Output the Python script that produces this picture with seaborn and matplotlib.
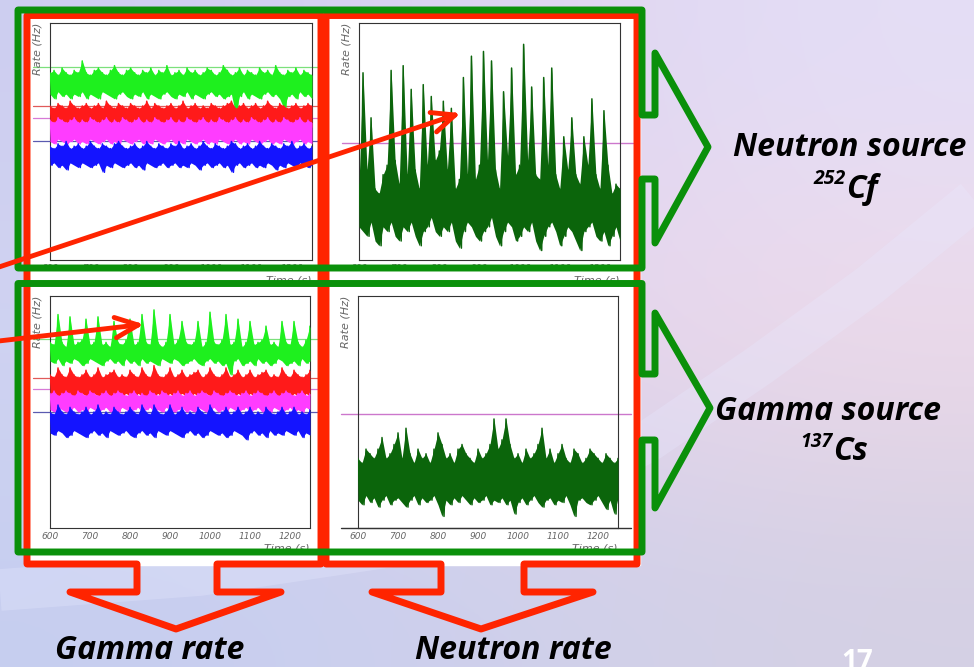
import pandas as pd
import numpy as np
import matplotlib.pyplot as plt
import seaborn as sns
from matplotlib.patches import Polygon, Rectangle

W, H = 974, 667

# time bins (s), one high/low pair of the noisy rate per bin
time_s = list(range(600, 1260, 10))

# ---- Neutron source 252Cf, gamma rate (top left) ----
cf_gamma_green_hi = [79, 80, 78, 81, 79, 78, 80, 79, 84, 79,
                     78, 80, 81, 79, 78, 80, 82, 79, 78, 80,
                     81, 79, 78, 80, 79, 81, 78, 80, 79, 82,
                     78, 79, 80, 78, 81, 79, 80, 78, 79, 81,
                     80, 78, 79, 82, 80, 78, 79, 81, 78, 80,
                     79, 78, 81, 79, 80, 78, 82, 79, 78, 80,
                     79, 81, 78, 80, 79, 78]
cf_gamma_green_lo = [70, 68, 71, 69, 70, 68, 70, 69, 71, 68,
                     70, 69, 68, 71, 70, 69, 68, 70, 71, 69,
                     68, 70, 69, 71, 68, 70, 69, 68, 70, 71,
                     69, 68, 70, 69, 71, 68, 70, 69, 68, 70,
                     71, 69, 70, 68, 69, 70, 62, 69, 71, 68,
                     70, 69, 68, 70, 71, 69, 70, 68, 64, 69,
                     70, 68, 71, 69, 70, 68]
cf_gamma_red_hi = [65, 64, 66, 65, 64, 67, 65, 64, 65, 66,
                   64, 65, 66, 64, 67, 65, 64, 66, 65, 64,
                   66, 65, 64, 65, 67, 64, 66, 65, 64, 65,
                   66, 64, 65, 67, 64, 65, 66, 64, 65, 64,
                   66, 65, 64, 65, 66, 67, 64, 65, 66, 64,
                   65, 66, 64, 65, 67, 65, 64, 66, 65, 64,
                   65, 66, 64, 65, 66, 65]
cf_gamma_red_lo = [57, 56, 58, 57, 56, 57, 58, 56, 57, 56,
                   58, 57, 56, 57, 58, 56, 57, 56, 58, 57,
                   56, 57, 58, 56, 57, 56, 58, 57, 56, 57,
                   58, 56, 57, 56, 58, 57, 56, 57, 58, 56,
                   57, 56, 58, 57, 56, 57, 58, 56, 57, 56,
                   58, 57, 56, 57, 58, 56, 57, 56, 58, 57,
                   56, 57, 58, 56, 57, 56]
cf_gamma_mag_hi = [59, 58, 60, 59, 58, 59, 60, 58, 59, 58,
                   60, 59, 58, 59, 60, 58, 59, 58, 60, 59,
                   58, 59, 60, 58, 59, 58, 60, 59, 58, 59,
                   60, 58, 59, 58, 60, 59, 58, 59, 60, 58,
                   59, 58, 60, 59, 58, 59, 60, 58, 59, 58,
                   60, 59, 58, 59, 60, 58, 59, 58, 60, 59,
                   58, 59, 60, 58, 59, 58]
cf_gamma_mag_lo = [50, 49, 51, 50, 49, 50, 51, 49, 50, 49,
                   51, 50, 49, 50, 51, 49, 50, 49, 51, 50,
                   49, 50, 51, 49, 50, 49, 51, 50, 49, 50,
                   51, 49, 50, 49, 51, 50, 49, 50, 51, 49,
                   50, 49, 51, 50, 49, 50, 51, 49, 50, 49,
                   51, 50, 49, 50, 51, 49, 50, 49, 51, 50,
                   49, 50, 51, 49, 50, 49]
cf_gamma_blue_hi = [48, 47, 49, 48, 50, 47, 48, 49, 47, 48,
                    50, 48, 47, 49, 48, 47, 49, 50, 48, 47,
                    48, 49, 47, 48, 50, 48, 47, 49, 48, 47,
                    49, 48, 50, 47, 48, 49, 47, 48, 50, 48,
                    47, 49, 48, 47, 48, 50, 49, 47, 48, 49,
                    47, 48, 50, 48, 47, 49, 48, 47, 49, 48,
                    50, 47, 48, 49, 47, 48]
cf_gamma_blue_lo = [40, 41, 39, 40, 38, 41, 40, 39, 41, 40,
                    39, 40, 41, 37, 40, 39, 41, 40, 39, 40,
                    41, 39, 40, 38, 41, 40, 39, 40, 41, 39,
                    40, 41, 39, 40, 39, 41, 40, 38, 40, 41,
                    39, 40, 41, 39, 40, 37, 40, 41, 39, 40,
                    41, 39, 40, 39, 41, 40, 38, 40, 39, 41,
                    40, 39, 41, 40, 39, 40]

# ---- Neutron source 252Cf, neutron rate (top right) ----
cf_neutron_hi = [32, 79, 38, 60, 30, 28, 36, 40, 80, 42,
                 32, 82, 36, 72, 38, 30, 74, 40, 69, 42,
                 46, 67, 38, 64, 30, 34, 77, 36, 86, 34,
                 40, 88, 42, 84, 38, 30, 71, 44, 81, 36,
                 40, 91, 42, 73, 36, 34, 77, 40, 81, 36,
                 30, 52, 38, 60, 36, 32, 52, 40, 68, 36,
                 30, 63, 40, 28, 32, 30]
cf_neutron_lo = [14, 12, 10, 16, 8, 6, 14, 12, 16, 10,
                 8, 14, 12, 16, 10, 6, 12, 14, 18, 12,
                 10, 14, 12, 16, 8, 5, 12, 16, 14, 10,
                 8, 12, 14, 18, 10, 6, 12, 16, 14, 8,
                 10, 14, 12, 16, 8, 4, 10, 14, 16, 12,
                 6, 10, 14, 12, 8, 4, 12, 14, 16, 10,
                 8, 12, 6, 10, 14, 8]

# ---- Gamma source 137Cs, gamma rate (bottom left) ----
cs_gamma_green_hi = [80, 79, 92, 80, 78, 91, 79, 80, 81, 90,
                     79, 80, 91, 79, 80, 78, 89, 80, 79, 81,
                     90, 79, 80, 92, 80, 79, 94, 80, 78, 80,
                     92, 79, 81, 89, 80, 79, 80, 89, 78, 80,
                     93, 80, 79, 81, 92, 79, 80, 90, 78, 80,
                     89, 79, 80, 81, 87, 79, 80, 78, 89, 80,
                     79, 89, 80, 78, 81, 87]
cs_gamma_green_lo = [72, 71, 73, 70, 72, 71, 73, 72, 70, 71,
                     73, 72, 71, 70, 72, 73, 71, 72, 70, 73,
                     71, 72, 70, 73, 71, 72, 71, 70, 73, 72,
                     71, 73, 72, 70, 71, 72, 73, 71, 70, 72,
                     73, 71, 72, 70, 71, 66, 72, 73, 70, 71,
                     72, 70, 73, 71, 72, 70, 71, 73, 72, 70,
                     71, 72, 70, 73, 71, 72]
cs_gamma_red_hi = [66, 65, 69, 66, 65, 69, 66, 65, 66, 68,
                   65, 66, 69, 65, 66, 67, 68, 65, 66, 65,
                   68, 66, 65, 69, 66, 65, 70, 66, 65, 66,
                   69, 65, 66, 68, 65, 66, 67, 68, 65, 66,
                   69, 66, 65, 66, 69, 65, 66, 68, 65, 66,
                   68, 65, 66, 67, 68, 65, 66, 65, 69, 66,
                   65, 68, 66, 65, 66, 68]
cs_gamma_red_lo = [58, 57, 56, 58, 57, 58, 56, 57, 58, 57,
                   56, 58, 57, 56, 58, 57, 56, 58, 57, 58,
                   57, 56, 58, 57, 56, 58, 57, 58, 56, 57,
                   58, 56, 57, 58, 57, 56, 58, 57, 56, 58,
                   57, 58, 56, 57, 58, 57, 56, 58, 57, 56,
                   58, 57, 58, 56, 57, 58, 56, 57, 58, 57,
                   56, 58, 57, 56, 58, 57]
cs_gamma_mag_hi = [58, 59, 57, 58, 59, 58, 57, 59, 58, 57,
                   59, 58, 57, 58, 59, 57, 58, 59, 58, 57,
                   58, 59, 57, 58, 57, 59, 58, 57, 59, 58,
                   57, 58, 59, 57, 58, 59, 57, 58, 59, 58,
                   57, 59, 58, 57, 58, 59, 58, 57, 58, 59,
                   57, 58, 59, 58, 57, 58, 59, 57, 58, 59,
                   58, 57, 58, 59, 57, 58]
cs_gamma_mag_lo = [51, 50, 52, 51, 50, 51, 52, 50, 51, 50,
                   52, 51, 50, 51, 52, 50, 51, 50, 52, 51,
                   50, 51, 52, 50, 51, 52, 50, 51, 50, 52,
                   51, 50, 51, 52, 50, 51, 50, 52, 51, 50,
                   51, 52, 50, 51, 50, 52, 51, 50, 51, 52,
                   50, 51, 52, 50, 51, 50, 52, 51, 50, 51,
                   52, 50, 51, 50, 52, 51]
cs_gamma_blue_hi = [50, 49, 53, 50, 49, 52, 50, 49, 50, 52,
                    49, 50, 53, 49, 50, 49, 52, 50, 49, 50,
                    52, 50, 49, 53, 50, 49, 53, 50, 49, 50,
                    53, 49, 50, 52, 49, 50, 49, 52, 50, 49,
                    53, 50, 49, 50, 52, 49, 50, 52, 49, 50,
                    52, 49, 50, 49, 52, 50, 49, 50, 52, 49,
                    50, 52, 49, 50, 49, 51]
cs_gamma_blue_lo = [41, 40, 42, 41, 39, 40, 42, 41, 40, 39,
                    41, 42, 40, 41, 39, 42, 41, 40, 41, 42,
                    40, 39, 41, 42, 40, 41, 39, 42, 41, 40,
                    42, 41, 40, 39, 41, 42, 40, 41, 39, 40,
                    42, 41, 40, 41, 39, 40, 42, 41, 40, 38,
                    41, 42, 40, 41, 39, 42, 40, 41, 40, 42,
                    41, 40, 42, 39, 41, 40]

# ---- Gamma source 137Cs, neutron rate (bottom right) ----
cs_neutron_hi = [30, 28, 34, 32, 30, 34, 39, 30, 32, 36,
                 41, 30, 43, 32, 28, 34, 30, 32, 28, 34,
                 41, 36, 30, 32, 28, 34, 36, 32, 30, 28,
                 34, 30, 32, 36, 47, 34, 38, 47, 36, 30,
                 32, 28, 34, 30, 32, 36, 43, 30, 34, 28,
                 32, 36, 30, 28, 34, 32, 28, 30, 34, 32,
                 30, 28, 32, 30, 28, 30]
cs_neutron_lo = [12, 10, 14, 11, 13, 9, 12, 14, 10, 12,
                 13, 11, 9, 12, 14, 10, 13, 11, 12, 14,
                 10, 5, 12, 10, 13, 11, 14, 12, 10, 13,
                 11, 12, 14, 10, 12, 11, 13, 10, 12, 6,
                 11, 13, 10, 12, 14, 11, 9, 12, 13, 10,
                 12, 11, 14, 10, 5, 12, 13, 11, 10, 12,
                 14, 11, 8, 12, 6, 13]

# reference (mean) levels drawn across each panel
gamma_ref_levels = [81.4, 64.8, 60.0, 50.2]
neutron_ref_level = 49.3

GREEN, RED, MAG, BLUE, DKGREEN = "#1ef01e", "#ff1a1a", "#ff3cff", "#1414ff", "#0b650b"
REF_COLORS = ["#7ce07c", "#e05a5a", "#d77ad7", "#5a5ab0"]
FRAME_RED, FRAME_GREEN = "#ff2400", "#0a900a"

sns.set_style("white")
plt.rcParams["font.family"] = ["Open Sans", "DejaVu Sans"]


def zigzag(hi, lo):
    xs, ys = [], []
    for t, h, l in zip(time_s, hi, lo):
        xs += [t, t + 5]
        ys += [h, l]
    return pd.DataFrame({"time": xs, "rate": ys})


def draw_band(ax, hi, lo, color):
    ax.fill_between(time_s, lo, hi, color=color, lw=0, zorder=3)
    sns.lineplot(data=zigzag(hi, lo), x="time", y="rate", color=color,
                 lw=1.1, estimator=None, ax=ax, zorder=3)


def style_panel(ax):
    ax.set_xlim(600, 1250)
    ax.set_ylim(0, 100)
    ax.set_facecolor("white")
    ax.set_xticks(range(600, 1201, 100))
    ax.set_xticks(range(600, 1251, 20), minor=True)
    ax.set_yticks([i * 100 / 12 for i in range(13)])
    ax.set_yticks([i * 100 / 60 for i in range(61)], minor=True)
    ax.set_yticklabels([])
    ax.tick_params(which="major", direction="in", length=3.6, width=0.7,
                   colors="#333333", labelsize=6.5, labelcolor="#666666", pad=3)
    ax.tick_params(which="minor", direction="in", length=2, width=0.6,
                   colors="#333333")
    for lab in ax.get_xticklabels():
        lab.set_style("italic")
        lab.set_family("DejaVu Sans")
    for sp in ax.spines.values():
        sp.set_color("#333333")
        sp.set_linewidth(0.8)
    ax.set_xlabel("")
    ax.set_ylabel("")
    ax.text(-0.047, 1.0, "Rate (Hz)", transform=ax.transAxes, rotation=90,
            ha="center", va="top", fontsize=8, style="italic",
            color="#666666", family="DejaVu Sans")
    ax.text(1.0, -0.088, "Time (s)", transform=ax.transAxes, ha="right",
            va="center", fontsize=8, style="italic", color="#666666",
            family="DejaVu Sans")


def fig_rect(left, top, right, bottom):
    return [left / W, 1 - bottom / H, (right - left) / W, (bottom - top) / H]


fig = plt.figure(figsize=(W / 100, H / 100), dpi=100)

# slide background
ax_bg = fig.add_axes([0, 0, 1, 1], zorder=0)
grad = np.array([[[205, 206, 240], [222, 212, 240], [228, 222, 246]],
                 [[208, 212, 242], [230, 212, 238], [240, 218, 232]],
                 [[198, 206, 240], [206, 208, 236], [212, 208, 228]]],
                dtype=np.uint8)
ax_bg.imshow(grad, extent=(0, W, H, 0), aspect="auto", interpolation="bicubic")
# light swoosh of the slide template
sx = [0, 200, 400, 560, 650, 760, 870, 974]
sy = [590, 575, 545, 490, 440, 365, 285, 200]
ax_bg.plot(sx, sy, color="#e8eaff", lw=30, alpha=0.3, solid_capstyle="butt")
ax_bg.add_patch(Rectangle((25, 15), 615, 550, color="white", zorder=2))
ax_bg.set_xlim(0, W)
ax_bg.set_ylim(H, 0)
ax_bg.axis("off")

# data panels
ax_tl = fig.add_axes(fig_rect(50, 23, 312, 260), zorder=2)
ax_tr = fig.add_axes(fig_rect(359, 23, 620, 260), zorder=2)
ax_bl = fig.add_axes(fig_rect(50, 296, 310, 528), zorder=2)
ax_br = fig.add_axes(fig_rect(358, 296, 618, 528), zorder=2)

for ax, bands in [
    (ax_tl, [(cf_gamma_green_hi, cf_gamma_green_lo, GREEN),
             (cf_gamma_red_hi, cf_gamma_red_lo, RED),
             (cf_gamma_mag_hi, cf_gamma_mag_lo, MAG),
             (cf_gamma_blue_hi, cf_gamma_blue_lo, BLUE)]),
    (ax_bl, [(cs_gamma_green_hi, cs_gamma_green_lo, GREEN),
             (cs_gamma_red_hi, cs_gamma_red_lo, RED),
             (cs_gamma_mag_hi, cs_gamma_mag_lo, MAG),
             (cs_gamma_blue_hi, cs_gamma_blue_lo, BLUE)]),
]:
    for level, c in zip(gamma_ref_levels, REF_COLORS):
        ax.axhline(level, xmin=-0.065, xmax=1.03, color=c, lw=0.9,
                   clip_on=False, zorder=2)
    for hi, lo, c in bands:
        draw_band(ax, hi, lo, c)
    style_panel(ax)

for ax, hi, lo in [(ax_tr, cf_neutron_hi, cf_neutron_lo),
                   (ax_br, cs_neutron_hi, cs_neutron_lo)]:
    ax.axhline(neutron_ref_level, xmin=-0.065, xmax=1.05, color="#cc77cc",
               lw=1.0, clip_on=False, zorder=2)
    draw_band(ax, hi, lo, DKGREEN)
    style_panel(ax)
ax_br.axhline(0, xmin=-0.065, xmax=1.05, color="#333333", lw=1.0,
              clip_on=False, zorder=4)

# annotation layer (frames, arrows, texts) in pixel coordinates
ov = fig.add_axes([0, 0, 1, 1], zorder=10)
ov.set_xlim(0, W)
ov.set_ylim(H, 0)
ov.patch.set_alpha(0)
ov.axis("off")

red_left = [(27, 564), (27, 15.5), (321, 15.5), (321, 564), (217, 564),
            (217, 592), (281, 592), (176, 629), (70, 592), (137, 592),
            (137, 564)]
red_right = [(326, 564), (326, 15.5), (637, 15.5), (637, 564), (524, 564),
             (524, 592), (593, 592), (481, 629), (372, 592), (441, 592),
             (441, 564)]
for pts in (red_left, red_right):
    ov.add_patch(Polygon(pts, closed=True, fill=False, ec=FRAME_RED, lw=5,
                         joinstyle="round"))

green_top = [(18, 268), (18, 10), (642, 10), (642, 115), (655, 115),
             (655, 53), (708, 147), (655, 243), (655, 179), (642, 179),
             (642, 268)]
green_bot = [(18, 552), (18, 283.5), (642, 283.5), (642, 374), (655, 374),
             (655, 313), (710, 408), (655, 508), (655, 440), (642, 440),
             (642, 552)]
for pts in (green_top, green_bot):
    ov.add_patch(Polygon(pts, closed=True, fill=False, ec=FRAME_GREEN, lw=5,
                         joinstyle="round"))

# red pointer arrows
for (x0, y0), (x1, y1) in [((-10, 270), (455, 115)), ((-10, 342), (138, 325))]:
    ov.plot([x0, x1], [y0, y1], color=FRAME_RED, lw=3.5, solid_capstyle="round")
    ang = np.arctan2(y0 - y1, x0 - x1)
    for d in (0.42, -0.42):
        ov.plot([x1, x1 + 25 * np.cos(ang + d)], [y1, y1 + 25 * np.sin(ang + d)],
                color=FRAME_RED, lw=3.5, solid_capstyle="round")

txt = dict(fontsize=23, fontweight="bold", style="italic", color="black")
sup = dict(fontsize=14, fontweight="bold", style="italic", color="black")
ov.text(850, 148, "Neutron source", ha="center", va="center", **txt)
ov.text(846, 189, "Cf", ha="left", va="center", **txt)
ov.text(846, 179, "252", ha="right", va="center", **sup)
ov.text(828, 411, "Gamma source", ha="center", va="center", **txt)
ov.text(833, 452, "Cs", ha="left", va="center", **txt)
ov.text(833, 442, "137", ha="right", va="center", **sup)
ov.text(150, 634, "Gamma rate", ha="center", va="top", **txt)
ov.text(513, 634, "Neutron rate", ha="center", va="top", **txt)
ov.text(857, 648, "17", ha="center", va="top", fontsize=20,
        fontweight="bold", color="white")

fig.savefig("out.png", dpi=100)
